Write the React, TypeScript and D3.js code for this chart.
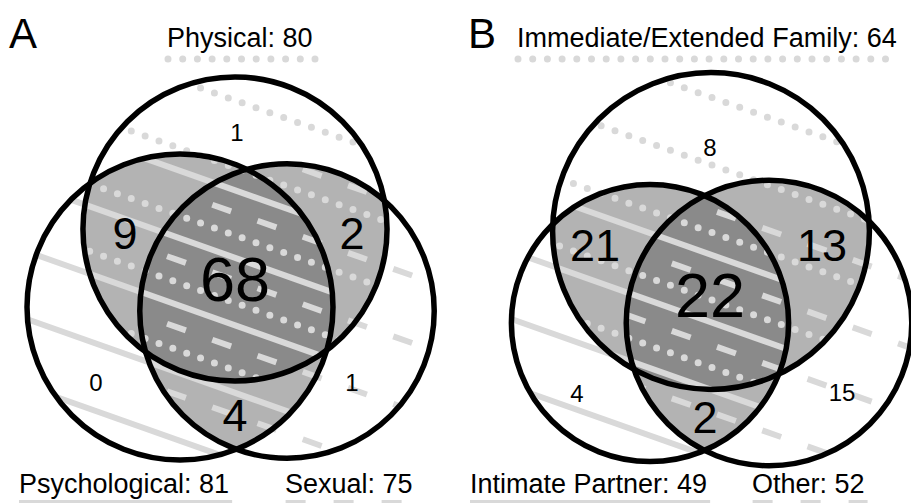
import React, { useRef, useEffect } from "react";
import * as d3 from "d3";

// set names and totals, order: top, bottom-left, bottom-right
const setNamesA = ["Physical", "Psychological", "Sexual"];
const setTotalsA = [80, 81, 75];
const setNamesB = ["Immediate/Extended Family", "Intimate Partner", "Other"];
const setTotalsB = [64, 49, 52];

// region membership (index into the sets) and counts
const regionSets = [[0], [1], [2], [0, 1], [0, 2], [1, 2], [0, 1, 2]];
const regionCountsA = [1, 0, 1, 9, 2, 4, 68];
const regionCountsB = [8, 4, 15, 21, 13, 2, 22];

const panelLetters = ["A", "B"];

const WIDTH = 911;
const HEIGHT = 503;
const FONT = "'Liberation Sans', Arial, Helvetica, sans-serif";

// venn layout per panel (pixel positions of circle centres, region label anchors)
const layouts = [
  {
    xRange: [0, 455],
    rMax: 170, // radius for a set of 100
    centers: [
      [235, 229],
      [180, 307],
      [287, 311],
    ],
    labelPos: [
      [237, 132],
      [96, 382],
      [352, 382],
      [125, 233],
      [352, 233],
      [235, 415],
      [235, 278],
    ],
    letterX: 9,
    nameX: [167, 19, 285],
    patternAnchor: [186.7, 240.7],
    dashAnchorX: 221.7,
    dotAnchorX: 186.7,
  },
  {
    xRange: [455, 911],
    rMax: 198,
    centers: [
      [711, 231],
      [650, 323],
      [769, 323],
    ],
    labelPos: [
      [710, 147],
      [577, 393],
      [842, 392],
      [595, 245],
      [822, 245],
      [705, 417],
      [710, 294],
    ],
    letterX: 468,
    nameX: [517, 470, 752],
    patternAnchor: [533.3, 259.3],
    dashAnchorX: 771.7,
    dotAnchorX: 615,
  },
];

const ANGLE = Math.atan(0.354);
const PERIOD = 67.5; // vertical distance between lines of one kind
const PATTERN_COLOR = "#d9d9d9";
const DOT_GAP = 14.7;
const DASH = [20, 28];

// top circle dotted, left solid, right dashed
const patternTypes = ["dotted", "solid", "dashed"];
const patternShift = [-22.5, 0, -45];

const App: React.FC = () => {
  const svgRef = useRef<SVGSVGElement | null>(null);

  useEffect(() => {
    if (!svgRef.current) return;
    document.body.style.margin = "0";

    const svg = d3.select(svgRef.current);
    svg.selectAll("*").remove();
    svg
      .attr("width", WIDTH)
      .attr("height", HEIGHT)
      .style("display", "block")
      .style("background", "#ffffff")
      .style("font-family", FONT);

    const defs = svg.append("defs");
    const fill = d3
      .scaleOrdinal<number, string>()
      .domain([1, 2, 3])
      .range(["none", "#b3b3b3", "#8a8a8a"]);
    const fontSize = d3
      .scaleOrdinal<number, number>()
      .domain([1, 2, 3])
      .range([24, 45, 63]);

    const m = Math.tan(ANGLE);
    const cos = Math.cos(ANGLE);

    const applyStyle = (sel: any, type: string, startX: number, dashX: number, dotX: number) => {
      sel
        .attr("stroke", PATTERN_COLOR)
        .attr("stroke-width", 6)
        .attr("fill", "none");
      if (type === "dotted") {
        const d = (dotX - startX) / cos;
        sel
          .attr("stroke-width", 7)
          .attr("stroke-dasharray", `0 ${DOT_GAP}`)
          .attr("stroke-linecap", "round")
          .attr("stroke-dashoffset", -d);
      } else if (type === "dashed") {
        const d = (dashX - startX) / cos;
        sel
          .attr("stroke-dasharray", DASH.join(" "))
          .attr("stroke-dashoffset", DASH[0] / 2 - d);
      }
    };

    [
      { names: setNamesA, totals: setTotalsA, counts: regionCountsA },
      { names: setNamesB, totals: setTotalsB, counts: regionCountsB },
    ].forEach((panel, pi) => {
      const lay = layouts[pi];
      const r = d3.scaleSqrt().domain([0, 100]).range([0, lay.rMax]);
      const circles = panel.totals.map((t, i) => ({
        cx: lay.centers[i][0],
        cy: lay.centers[i][1],
        r: r(t),
      }));

      circles.forEach((c, i) => {
        defs
          .append("clipPath")
          .attr("id", `clip-${pi}-${i}`)
          .append("circle")
          .attr("cx", c.cx)
          .attr("cy", c.cy)
          .attr("r", c.r);
      });

      const g = svg.append("g");

      // pairwise overlaps
      [
        [0, 1],
        [0, 2],
        [1, 2],
      ].forEach(([a, b]) => {
        g.append("circle")
          .attr("cx", circles[a].cx)
          .attr("cy", circles[a].cy)
          .attr("r", circles[a].r)
          .attr("fill", fill(2))
          .attr("clip-path", `url(#clip-${pi}-${b})`);
      });
      // triple overlap
      g.append("g")
        .attr("clip-path", `url(#clip-${pi}-2)`)
        .append("circle")
        .attr("cx", circles[0].cx)
        .attr("cy", circles[0].cy)
        .attr("r", circles[0].r)
        .attr("fill", fill(3))
        .attr("clip-path", `url(#clip-${pi}-1)`);

      // line patterns, one per set
      const x0 = lay.xRange[0] - 60;
      const x1 = lay.xRange[1] + 60;
      const [ax, ay] = lay.patternAnchor;
      const ks = d3.range(-12, 13);
      circles.forEach((c, i) => {
        const pg = g.append("g").attr("clip-path", `url(#clip-${pi}-${i})`);
        const lines = pg
          .selectAll("line")
          .data(ks)
          .join("line")
          .attr("x1", x0)
          .attr("x2", x1)
          .attr("y1", (k) => ay + patternShift[i] + k * PERIOD + m * (x0 - ax))
          .attr("y2", (k) => ay + patternShift[i] + k * PERIOD + m * (x1 - ax));
        applyStyle(lines, patternTypes[i], x0, lay.dashAnchorX, lay.dotAnchorX);
      });

      // outlines
      g.selectAll("circle.outline")
        .data(circles)
        .join("circle")
        .attr("class", "outline")
        .attr("cx", (d) => d.cx)
        .attr("cy", (d) => d.cy)
        .attr("r", (d) => d.r)
        .attr("fill", "none")
        .attr("stroke", "#000")
        .attr("stroke-width", 5.5);

      // region counts
      g.selectAll("text.count")
        .data(panel.counts)
        .join("text")
        .attr("class", "count")
        .attr("text-anchor", "middle")
        .attr("x", (_, i) => lay.labelPos[i][0])
        .attr("y", (_, i) => lay.labelPos[i][1] + fontSize(regionSets[i].length) * 0.36)
        .attr("font-size", (_, i) => fontSize(regionSets[i].length))
        .attr("fill", "#000")
        .text((d) => d);

      // panel letter
      g.append("text")
        .attr("x", lay.letterX)
        .attr("y", 48)
        .attr("font-size", 42)
        .text(panelLetters[pi]);

      // set names with pattern key underneath
      panel.names.forEach((name, i) => {
        const top = i === 0;
        const ty = top ? 47 : 493;
        const ly = top ? 59 : 503;
        const t = g
          .append("text")
          .attr("x", lay.nameX[i])
          .attr("y", ty)
          .attr("font-size", 27)
          .text(`${name}: ${panel.totals[i]}`);
        const w = (t.node() as SVGTextElement).getComputedTextLength();
        const lx0 = lay.nameX[i] + (patternTypes[i] === "dotted" ? 1 : 0);
        const key = g
          .append("line")
          .attr("x1", lx0)
          .attr("x2", lay.nameX[i] + w + 3)
          .attr("y1", ly)
          .attr("y2", ly);
        applyStyle(key, patternTypes[i], lx0, lx0 + DASH[0] / 2, lx0);
      });
    });
  }, []);

  return <svg ref={svgRef}></svg>;
};

export default App;
